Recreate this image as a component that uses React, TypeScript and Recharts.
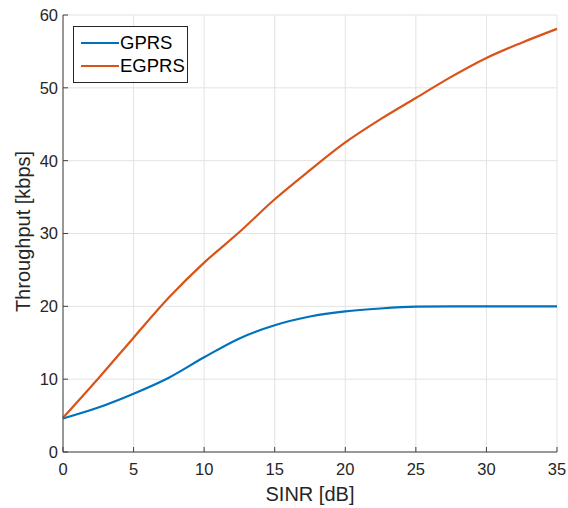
import { LineChart, Line, XAxis, YAxis, CartesianGrid, Legend } from 'recharts'

const sinr = [0, 2.5, 5, 7.5, 10, 12.5, 15, 17.5, 20, 22.5, 25, 27.5, 30, 32.5, 35]
const gprs = [4.6, 6.1, 8.0, 10.2, 13.0, 15.6, 17.4, 18.6, 19.3, 19.7, 19.95, 20.0, 20.0, 20.0, 20.0]
const egprs = [4.7, 10.1, 15.7, 21.2, 26.0, 30.2, 34.7, 38.7, 42.5, 45.7, 48.6, 51.5, 54.1, 56.2, 58.1]
const seriesNames = ['GPRS', 'EGPRS']
const xTicks = [0, 5, 10, 15, 20, 25, 30, 35]
const yTicks = [0, 10, 20, 30, 40, 50, 60]

const data = sinr.map((s, i) => ({ sinr: s, gprs: gprs[i], egprs: egprs[i] }))

const FONT = '"Liberation Sans", Arial, Helvetica, sans-serif'
const AXIS = '#404040'
const TEXT = '#262626'

function LegendBox({ payload }: any) {
  const items = [...(payload || [])].sort(
    (a: any, b: any) => seriesNames.indexOf(a.value) - seriesNames.indexOf(b.value)
  )
  return (
    <div
      style={{
        border: '1px solid #262626',
        background: '#fff',
        padding: '4px 2px 5px 7px',
        fontFamily: FONT,
        fontSize: 18.5,
        color: '#000',
        lineHeight: '23px',
      }}
    >
      {items.map((p: any) => (
        <div key={p.value} style={{ display: 'flex', alignItems: 'center' }}>
          <span style={{ display: 'inline-block', width: 38, height: 2, background: p.color, marginRight: 1 }} />
          <span>{p.value}</span>
        </div>
      ))}
    </div>
  )
}

export default function App() {
  return (
    <div style={{ position: 'absolute', left: 0, top: 0, background: '#fff' }}>
      <LineChart width={568} height={508} data={data} margin={{ top: 15, right: 11, bottom: 0, left: 0 }}>
        <CartesianGrid stroke="#e3e3e3" strokeWidth={1} />
        <XAxis
          dataKey="sinr"
          type="number"
          domain={[0, 35]}
          ticks={xTicks}
          height={56}
          stroke={AXIS}
          tickSize={-5}
          tickMargin={16}
          tick={{ fill: TEXT, fontSize: 16.5, fontFamily: FONT }}
          label={({ viewBox }: any) => (
            <text
              x={viewBox.x + viewBox.width / 2}
              y={494}
              textAnchor="middle"
              dominantBaseline="central"
              fill={TEXT}
              fontSize={20}
              fontFamily={FONT}
            >
              SINR [dB]
            </text>
          )}
        />
        <XAxis
          xAxisId="top"
          dataKey="sinr"
          type="number"
          orientation="top"
          domain={[0, 35]}
          ticks={xTicks}
          height={0}
          stroke={AXIS}
          tickSize={-5}
          tick={false}
        />
        <YAxis
          type="number"
          domain={[0, 60]}
          ticks={yTicks}
          width={63}
          stroke={AXIS}
          tickSize={-5}
          tickMargin={10}
          tick={{ fill: TEXT, fontSize: 16.5, fontFamily: FONT }}
          label={({ viewBox }: any) => {
            const cx = 23
            const cy = viewBox.y + viewBox.height / 2 - 2
            return (
              <text
                x={cx}
                y={cy}
                transform={`rotate(-90, ${cx}, ${cy})`}
                textAnchor="middle"
                dominantBaseline="central"
                fill={TEXT}
                fontSize={20}
                fontFamily={FONT}
              >
                Throughput [kbps]
              </text>
            )
          }}
        />
        <YAxis
          yAxisId="right"
          orientation="right"
          type="number"
          domain={[0, 60]}
          ticks={yTicks}
          width={0}
          stroke={AXIS}
          tickSize={-5}
          tick={false}
        />
        <Legend
          layout="vertical"
          align="center"
          verticalAlign="middle"
          wrapperStyle={{ left: 73, top: 26, width: 'auto' }}
          content={<LegendBox />}
        />
        <Line
          type="monotone"
          dataKey="gprs"
          name="GPRS"
          stroke="#0072BD"
          strokeWidth={2.2}
          dot={false}
          isAnimationActive={false}
        />
        <Line
          type="monotone"
          dataKey="egprs"
          name="EGPRS"
          stroke="#D95319"
          strokeWidth={2.2}
          dot={false}
          isAnimationActive={false}
        />
      </LineChart>
    </div>
  )
}
